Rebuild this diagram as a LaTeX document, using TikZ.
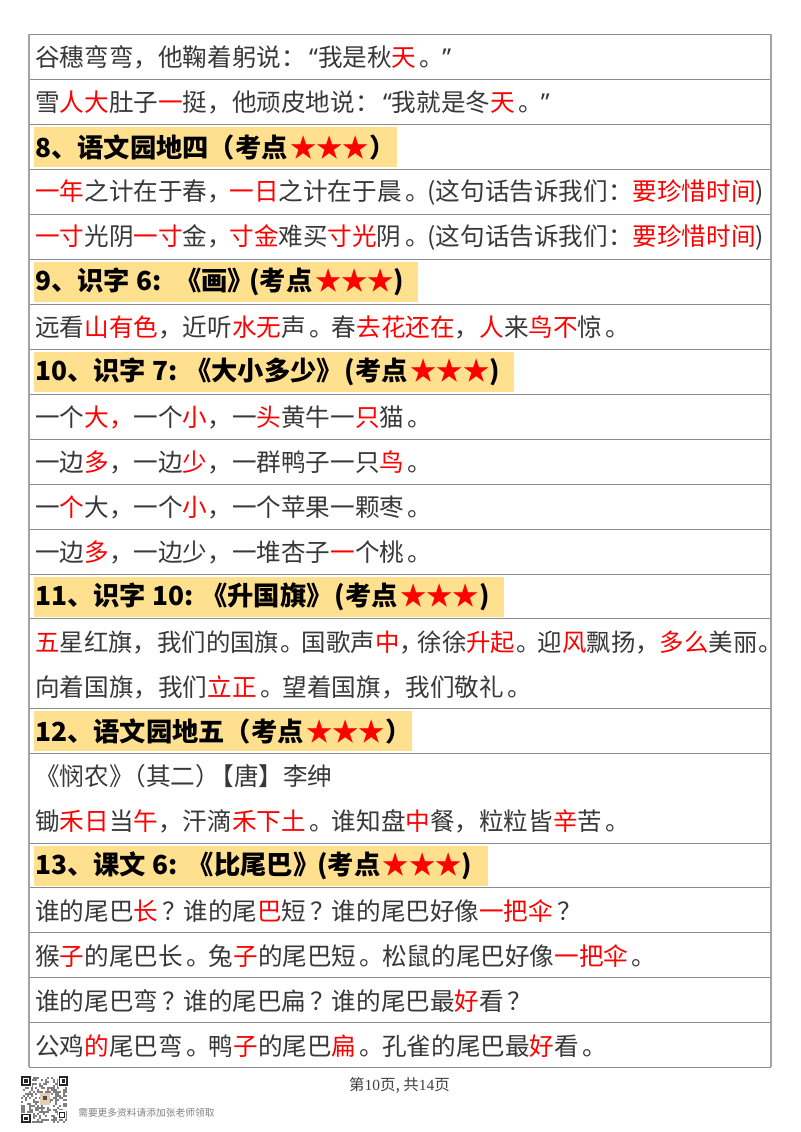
\documentclass[tikz,border=0pt]{standalone}
\usepackage{fontspec}
\setmainfont{Noto Sans CJK SC}
\newfontfamily\footfont{Liberation Serif}
\newfontfamily\quotefont{Noto Sans}
\usetikzlibrary{positioning}
\definecolor{hilite}{HTML}{FFE08F}
\definecolor{keyred}{HTML}{FF0000}
\definecolor{rulegray}{HTML}{8C8C8C}
\newcommand{\R}[1]{\textcolor{keyred}{#1}}
\newcommand{\stars}{\kern2pt\textcolor{keyred}{★★★}}
\newcommand{\ju}{\kern2.6pt。\kern-1.6pt}
\newcommand{\juS}{\kern1pt。\kern-2.4pt}
\newcommand{\douS}{，\kern-2pt}
\newcommand{\wen}{\kern3pt？\kern-2.5pt}
\newcommand{\qo}{\kern2.5pt{\quotefont “}}
\newcommand{\qc}{{\quotefont ”}}

\begin{document}
\begin{tikzpicture}[x=.75pt, y=-.75pt,
        rowtext/.style={anchor=west, inner sep=0pt, font=\fontsize{18.45}{22}\selectfont, text=black!78},
        headtext/.style={anchor=west, inner sep=0pt, font=\fontsize{19.7}{24}\selectfont\bfseries, text=black},
        band/.style={fill=hilite, draw=none},
        rule/.style={draw=rulegray, line width=.75pt}]
    \useasboundingbox (0,0) rectangle (800,1132);
    \fill[white] (0,0) rectangle (800,1132);

    % Highlight bands
    \fill[band] (34,126.7) rectangle (397,166.7);
    \fill[band] (34,261.7) rectangle (418,301.7);
    \fill[band] (34,351.7) rectangle (514,391.7);
    \fill[band] (34,576.7) rectangle (504,616.7);
    \fill[band] (34,710.7) rectangle (412,750.7);
    \fill[band] (34,845.7) rectangle (488,885.7);

    % Table rules
    \foreach \y in {34.4,79.4,124.4,169.4,214.4,259.4,304.4,349.4,394.4,439.4,484.4,529.4,574.4,618.6,708.4,753.4,843.4,887.6,932.6,977.6,1022.6,1067.4}
      \draw[rule] (29,\y) -- (771,\y);
    \draw[draw=rulegray!80, line width=1.1pt] (29,34.4) -- (29,1067.4);
    \draw[draw=rulegray!80, line width=1.1pt] (771,34.4) -- (771,1067.4);

    % Rows
    \node[rowtext] (autumn) at (35,57) {谷穗弯弯，他鞠着躬说：\qo 我是秋\R{天}\ju\qc};
    \node[rowtext] (winter) at (35,102) {雪\R{人大}肚子\R{一}挺，他顽皮地说：\qo 我就是冬\R{天}\ju\qc};
    \node[headtext] (headEight) at (35,147) {8、语文园地四（考点\stars）};
    \node[rowtext] (yearLine) at (35,192) {\R{一年}之计在于春\douS\R{一日}之计在于晨\ju(这句话告诉我们：\R{要珍惜时间})};
    \node[rowtext] (inchLine) at (35,237) {\R{一寸}光阴\R{一寸}金\douS\R{寸金}难买\R{寸光}阴\ju(这句话告诉我们：\R{要珍惜时间})};
    \node[headtext] (headNine) at (35,282) {9、识字 6:\kern10.5pt《画》\kern-3.5pt(考点\stars)};
    \node[rowtext] (poemHua) at (35,327) {远看\R{山有色}，近听\R{水无}声\ju 春\R{去花还在}，\R{人}来\R{鸟不}惊\ju};
    \node[headtext] (headTen) at (35,372) {10、识字 7:\kern6pt《大小多少》\kern1.5pt(考点\stars)};
    \node[rowtext] (sizeOne) at (35,417) {一个\R{大，}一个\R{小}，一\R{头}黄牛一\R{只}猫\ju};
    \node[rowtext] (sizeTwo) at (35,462) {一边\R{多}，一边\R{少}，一群鸭子一只\R{鸟}\ju};
    \node[rowtext] (sizeThree) at (35,507) {一\R{个}大，一个\R{小}，一个苹果一颗枣\ju};
    \node[rowtext] (sizeFour) at (35,552) {一边\R{多}，一边少，一堆杏子\R{一}个桃\ju};
    \node[headtext] (headEleven) at (35,597) {11、识字 10:\kern6pt《升国旗》\kern1.5pt(考点\stars)};
    \node[rowtext, font=\fontsize{18.3}{22}\selectfont] (flagOne) at (35,642) {\R{五}星红旗，我们的国旗\juS 国歌声\R{中}\douS\kern-2.5pt 徐徐\R{升起}\juS 迎\R{风}飘扬，\R{多么}美丽\juS};
    \node[rowtext] (flagTwo) at (35,687) {向着国旗，我们\R{立正}\ju 望着国旗，我们敬礼\ju};
    \node[headtext] (headTwelve) at (35,731) {12、语文园地五（考点\stars）};
    \node[rowtext] (poemTitle) at (35,776) {《悯农》\kern-9pt（其二）\kern-8pt【唐】李绅};
    \node[rowtext] (poemBody) at (35,821) {锄\R{禾日}当\R{午}，汗滴\R{禾下土}\ju 谁知盘\R{中}餐，粒粒皆\R{辛}苦\ju};
    \node[headtext] (headThirteen) at (35,866) {13、课文 6:\kern8pt《比尾巴》\kern-1.5pt(考点\stars)};
    \node[rowtext] (tailOne) at (35,911) {谁的尾巴\R{长}\wen 谁的尾\R{巴}短\wen 谁的尾巴好像\R{一把伞}\wen};
    \node[rowtext] (tailTwo) at (35,956) {猴\R{子}的尾巴长\ju 兔\R{子}的尾巴短\ju 松鼠的尾巴好像\R{一把伞}\ju};
    \node[rowtext] (tailThree) at (35,1001) {谁的尾巴弯\wen 谁的尾巴扁\wen 谁的尾巴最\R{好}看\wen};
    \node[rowtext] (tailFour) at (35,1046) {公鸡\R{的}尾巴弯\ju 鸭\R{子}的尾巴\R{扁}\ju 孔雀的尾巴最\R{好}看\ju};

    % Footer
    \node[anchor=center, inner sep=0pt, font=\fontsize{11.6}{13}\selectfont, text=black!75] (pageNo) at (399.5,1085)
      {第{\footfont 10}页, 共{\footfont 14}页};
    \node[anchor=west, inner sep=0pt, font=\fontsize{7.3}{8}\selectfont, text=black!50] (moreInfo) at (78,1113)
      {需要更多资料请添加张老师领取};

    % QR code
    \pgfmathsetseed{7}
    \foreach \i in {0,...,22}
      \foreach \j in {0,...,22} {
        \pgfmathparse{rnd<.42 ? 1 : 0}
        \ifnum\pgfmathresult=1
          \fill[black!50] (21+2*\i,1077+2*\j) rectangle ++(2,2);
        \fi
      }
    \foreach \qx/\qy in {21/1076,58.5/1076,21/1113.5} {
      \fill[white] (\qx-1,\qy-1) rectangle ++(11.5,11.5);
      \fill[black!85] (\qx,\qy) rectangle ++(9.5,9.5);
      \fill[white] (\qx+1.7,\qy+1.7) rectangle ++(6.1,6.1);
      \fill[black!85] (\qx+3,\qy+3) rectangle ++(3.5,3.5);
    }
    \fill[white] (58,1110) rectangle ++(8,9);
    \draw[black!85, line width=.75pt] (59.5,1112.5) rectangle ++(5,5);
    \fill[brown!40] (40,1093) rectangle ++(10,12);
    \fill[black!70] (43,1096) rectangle ++(4,4);
\end{tikzpicture}
\end{document}
